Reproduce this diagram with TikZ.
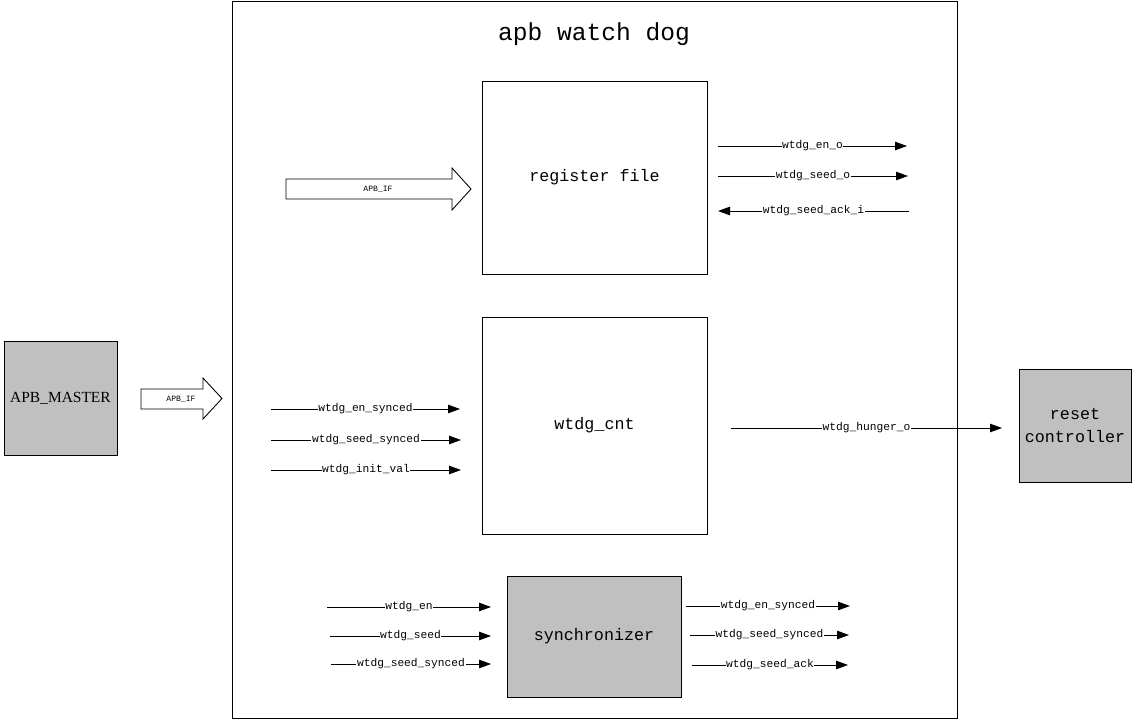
\documentclass[tikz,border=0pt]{standalone}
\usepackage{fontspec}
\setmainfont{Liberation Serif}
\setmonofont{Liberation Mono}
\usetikzlibrary{arrows.meta,positioning}
\definecolor{ink}{HTML}{000000}
\definecolor{blockgray}{HTML}{C0C0C0}
\tikzset{
  blk/.style={draw=ink, line width=0.5pt, align=center, inner sep=0pt,
              font=\fontsize{9.5}{13.6}\selectfont\ttfamily},
  gblk/.style={blk, fill=blockgray},
  sig/.style={-{Triangle[length=2.4mm,width=1.7mm]}, line width=0.5pt, color=ink},
  lbl/.style={fill=white, inner sep=0.3pt, text=ink, font=\fontsize{6.4}{7}\selectfont\ttfamily},
  fat/.style={draw=ink, line width=0.5pt, fill=white},
}

\begin{document}
\begin{tikzpicture}[x=0.02cm, y=-0.02cm,
      tiny/.style={font=\fontsize{4.6}{5}\selectfont\ttfamily}]
  \useasboundingbox (0,0) rectangle (1136,719);
  % outer module
  \node[draw=ink, line width=0.5pt, minimum width=14.5cm, minimum height=14.34cm,
        anchor=north west] (wdog) at (232,1) {};
  \node[font=\fontsize{14}{16}\selectfont\ttfamily] (title) at (594,34) {apb watch dog};
  % blocks
  \node[blk, minimum width=4.5cm, minimum height=3.86cm] (regf) at (594.5,177.5) {register file};
  \node[blk, minimum width=4.5cm, minimum height=4.34cm] (cnt) at (594.5,425.5) {wtdg\_cnt};
  \node[gblk, minimum width=3.48cm, minimum height=2.42cm] (sync) at (594,636.5) {synchronizer};
  \node[gblk, font=\fontsize{8.8}{10}\selectfont\rmfamily, minimum width=2.26cm,
        minimum height=2.28cm] (master) at (60.5,398) {APB\_MASTER};
  \node[gblk, minimum width=2.24cm, minimum height=2.26cm] (rstc) at (1075,425.5) {reset\\controller};
  % bus arrows
  \draw[fat] (286,179) -- (452,179) -- (452,168) -- (471,189) -- (452,210) -- (452,199) -- (286,199) -- cycle;
  \node[tiny] (busin) at (378,189) {APB\_IF};
  \draw[fat] (141,389) -- (203,389) -- (203,378) -- (222,398.5) -- (203,419) -- (203,409) -- (141,409) -- cycle;
  \node[tiny] (busout) at (181,399) {APB\_IF};
  % register file ports
  \coordinate (eno1) at (718,146);   \coordinate (eno2) at (907,146);
  \coordinate (sdo1) at (718,176);   \coordinate (sdo2) at (908,176);
  \coordinate (ack1) at (909,211);   \coordinate (ack2) at (718,211);
  \draw[sig] (eno1) -- node[lbl] {wtdg\_en\_o} (eno2);
  \draw[sig] (sdo1) -- node[lbl] {wtdg\_seed\_o} (sdo2);
  \draw[sig] (ack1) -- node[lbl] {wtdg\_seed\_ack\_i} (ack2);
  % counter ports
  \coordinate (ens1) at (271,409);   \coordinate (ens2) at (460,409);
  \coordinate (sds1) at (271,440);   \coordinate (sds2) at (461,440);
  \coordinate (ini1) at (271,470);   \coordinate (ini2) at (461,470);
  \coordinate (hun1) at (731,428);   \coordinate (hun2) at (1002,428);
  \draw[sig] (ens1) -- node[lbl] {wtdg\_en\_synced} (ens2);
  \draw[sig] (sds1) -- node[lbl] {wtdg\_seed\_synced} (sds2);
  \draw[sig] (ini1) -- node[lbl] {wtdg\_init\_val} (ini2);
  \draw[sig] (hun1) -- node[lbl] {wtdg\_hunger\_o} (hun2);
  % synchronizer ports
  \coordinate (sen1) at (327,607);   \coordinate (sen2) at (491,607);
  \coordinate (ssd1) at (330,636);   \coordinate (ssd2) at (491,636);
  \coordinate (sss1) at (331,664);   \coordinate (sss2) at (491,664);
  \coordinate (oen1) at (686,606);   \coordinate (oen2) at (850,606);
  \coordinate (osd1) at (690,635);   \coordinate (osd2) at (849,635);
  \coordinate (oak1) at (692,665);   \coordinate (oak2) at (848,665);
  \draw[sig] (sen1) -- node[lbl] {wtdg\_en} (sen2);
  \draw[sig] (ssd1) -- node[lbl] {wtdg\_seed} (ssd2);
  \draw[sig] (sss1) -- node[lbl] {wtdg\_seed\_synced} (sss2);
  \draw[sig] (oen1) -- node[lbl] {wtdg\_en\_synced} (oen2);
  \draw[sig] (osd1) -- node[lbl] {wtdg\_seed\_synced} (osd2);
  \draw[sig] (oak1) -- node[lbl] {wtdg\_seed\_ack} (oak2);
\end{tikzpicture}
\end{document}
